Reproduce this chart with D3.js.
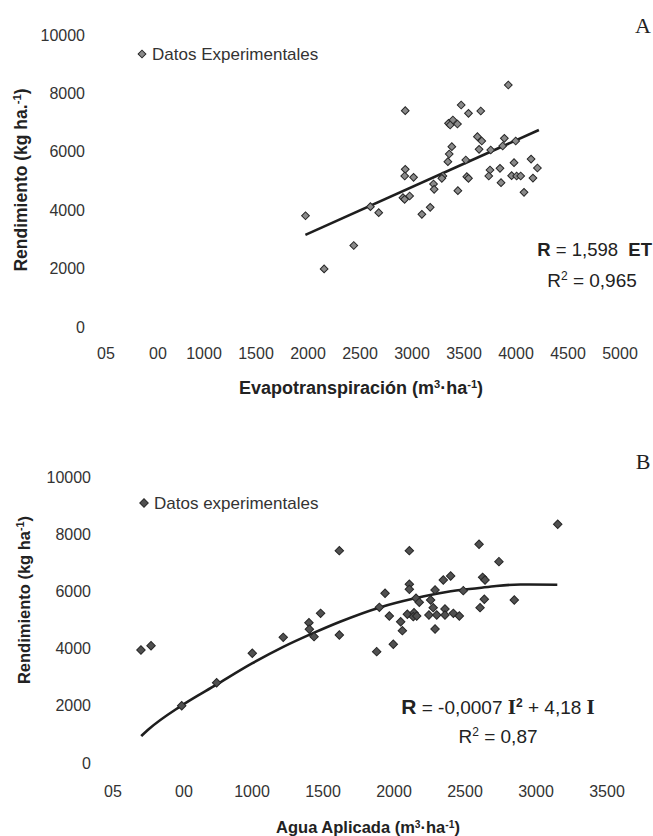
<!DOCTYPE html>
<html>
<head>
<meta charset="utf-8">
<script src="https://cdn.jsdelivr.net/npm/d3@7"></script>
<style>
  body { margin: 0; background: #fff; }
  svg { display: block; font-family: 'Liberation Sans', Arial, sans-serif; }
</style>
</head>
<body>
<div id="chart"></div>
<script>
// Panel A: evapotranspiration vs yield
const etA = [1976, 2440, 2155, 2600, 2680, 2935, 2935, 2930, 3015, 2913, 2929, 2977, 3095, 3175, 3207, 3213,
  3297, 3287, 3441, 3345, 3358, 3383, 3351, 3393, 3437, 3367, 3473, 3543, 3661, 3517, 3527, 3543, 3629, 3671,
  3645, 3757, 3750, 3738, 3846, 3856, 3872, 3888, 3997, 3981, 3958, 4006, 4045, 4077, 3926, 4145, 4206, 4163];
const rendA = [3810, 2790, 1990, 4120, 3915, 7410, 5400, 5170, 5125, 4430, 4372, 4486, 3858, 4098, 4897, 4714,
  5171, 5091, 4669, 5662, 5925, 6175, 6976, 7089, 6952, 6918, 7603, 7317, 7397, 5719, 5148, 5091, 6517, 6370,
  6085, 6062, 5377, 5171, 5434, 4942, 6199, 6462, 6370, 5627, 5182, 5171, 5171, 4612, 8288, 5750, 5445, 5100];
const fitA_x = [1975, 4220];
const fitA_y = [3155, 6745];

// Panel B: applied water vs yield
const aguaB = [218, 289, 505, 751, 1002, 1220, 1401, 1404, 1437, 1483, 1615, 1615, 1878, 1937, 1897, 1967, 1995,
  2047, 2059, 2108, 2108, 2108, 2094, 2141, 2136, 2160, 2155, 2178, 2258, 2276, 2246, 2289, 2289, 2301, 2347,
  2359, 2359, 2399, 2418, 2460, 2488, 2599, 2606, 2636, 2624, 2641, 2739, 2847, 3153];
const rendB = [3951, 4101, 2004, 2808, 3835, 4394, 4906, 4674, 4417, 5233, 7424, 4476, 3893, 5933, 5443, 5140, 4150,
  4941, 4627, 7424, 6248, 6072, 5199, 5256, 5117, 5140, 5758, 5618, 5699, 5431, 5175, 6049, 4685, 5175, 6399,
  5385, 5175, 6538, 5233, 5140, 6026, 7647, 5431, 5723, 6492, 6399, 7040, 5699, 8346];
const fitB_x = [220, 270, 500, 750, 1000, 1220, 1430, 1620, 1900, 2140, 2370, 2600, 2720, 2890, 3150];
const fitB_y = [940, 1170, 1995, 2740, 3480, 4060, 4540, 4940, 5440, 5750, 5980, 6120, 6190, 6240, 6230];

const yTicks = [0, 2000, 4000, 6000, 8000, 10000];
const xTicksA = [0, 500, 1000, 1500, 2000, 2500, 3000, 3500, 4000, 4500, 5000];
const xLabelsA = ['05', '00', '1000', '1500', '2000', '2500', '3000', '3500', '4000', '4500', '5000'];
const xTicksB = [0, 500, 1000, 1500, 2000, 2500, 3000, 3500];
const xLabelsB = ['05', '00', '1000', '1500', '2000', '2500', '3000', '3500'];

const svg = d3.select('#chart').append('svg')
  .attr('width', 653)
  .attr('height', 836);

const serif = "'Liberation Serif', 'Times New Roman', serif";

function drawPanel(cfg) {
  const x = d3.scaleLinear().domain(cfg.xDomain).range(cfg.xRange);
  const y = d3.scaleLinear().domain([0, 10000]).range(cfg.yRange);
  const g = svg.append('g');

  // y tick labels (no axis line in the original)
  g.selectAll('.ytick')
    .data(yTicks)
    .enter()
    .append('text')
    .attr('x', cfg.yLabelX)
    .attr('y', d => y(d) + 5.5)
    .attr('text-anchor', 'end')
    .style('font-size', '16px')
    .attr('fill', '#333')
    .text(d => d);

  // x tick labels
  g.selectAll('.xtick')
    .data(cfg.xTicks)
    .enter()
    .append('text')
    .attr('x', (d, i) => x(d) + (cfg.xLabels[i].length < 4 ? cfg.shortShift : 0))
    .attr('y', cfg.xLabelY)
    .attr('text-anchor', 'middle')
    .style('font-size', '16px')
    .attr('fill', '#333')
    .text((d, i) => cfg.xLabels[i]);

  // fitted line
  const line = d3.line()
    .x(d => x(d[0]))
    .y(d => y(d[1]))
    .curve(cfg.curve);
  g.append('path')
    .datum(cfg.fitX.map((v, i) => [v, cfg.fitY[i]]))
    .attr('fill', 'none')
    .attr('stroke', '#1e1e1e')
    .attr('stroke-width', 2.6)
    .attr('d', line);

  // points
  const diamond = d3.symbol().type(d3.symbolSquare).size(cfg.markSize);
  g.selectAll('.pt')
    .data(cfg.xs.map((v, i) => [v, cfg.ys[i]]))
    .enter()
    .append('path')
    .attr('d', diamond)
    .attr('transform', d => `translate(${x(d[0])},${y(d[1])}) rotate(45)`)
    .attr('fill', cfg.markFill)
    .attr('stroke', '#262626')
    .attr('stroke-width', 1);

  // legend
  g.append('path')
    .attr('d', diamond)
    .attr('transform', `translate(${cfg.legend[0]},${cfg.legend[1]}) rotate(45)`)
    .attr('fill', cfg.markFill)
    .attr('stroke', '#262626');
  g.append('text')
    .attr('x', cfg.legend[0] + 10)
    .attr('y', cfg.legend[1] + 6)
    .style('font-size', '17px')
    .attr('fill', '#333')
    .text(cfg.legendText);

  // panel letter
  g.append('text')
    .attr('x', 643)
    .attr('y', cfg.letterY)
    .attr('text-anchor', 'middle')
    .style('font-family', serif)
    .style('font-size', '22px')
    .attr('fill', '#222')
    .text(cfg.letter);

  // y title
  const yt = g.append('text')
    .attr('transform', `translate(${cfg.yTitle[0]},${cfg.yTitle[1]}) rotate(-90)`)
    .attr('text-anchor', 'middle')
    .style('font-size', cfg.yTitleSize + 'px')
    .style('font-weight', 'bold')
    .attr('fill', '#222');
  yt.append('tspan').text(cfg.yTitleText);
  yt.append('tspan').attr('baseline-shift', 'super').style('font-size', (cfg.yTitleSize * 0.65) + 'px').text('-1');
  yt.append('tspan').text(')');

  // x title
  const xt = g.append('text')
    .attr('x', cfg.xTitle[0])
    .attr('y', cfg.xTitle[1])
    .attr('text-anchor', 'middle')
    .style('font-size', cfg.xTitleSize + 'px')
    .style('font-weight', 'bold')
    .attr('fill', '#222');
  const supSize = (cfg.xTitleSize * 0.62) + 'px';
  xt.append('tspan').text(cfg.xTitleText + ' (m');
  xt.append('tspan').attr('baseline-shift', 'super').style('font-size', supSize).text('3');
  xt.append('tspan').text('·ha');
  xt.append('tspan').attr('baseline-shift', 'super').style('font-size', supSize).text('-1');
  xt.append('tspan').text(')');

  return g;
}

const gA = drawPanel({
  xDomain: [0, 5000], xRange: [100, 620], yRange: [327, 35],
  xTicks: xTicksA, xLabels: xLabelsA, shortShift: 6,
  yLabelX: 85, xLabelY: 359,
  xs: etA, ys: rendA, fitX: fitA_x, fitY: fitA_y, curve: d3.curveLinear,
  markSize: 30, markFill: '#8a8a8a',
  legend: [142, 54], legendText: 'Datos Experimentales',
  letter: 'A', letterY: 33,
  yTitle: [27, 180], yTitleText: 'Rendimiento (kg ha.', yTitleSize: 17.5,
  xTitle: [361, 394], xTitleText: 'Evapotranspiración', xTitleSize: 18
});

const gB = drawPanel({
  xDomain: [0, 3500], xRange: [110, 607], yRange: [763, 477],
  xTicks: xTicksB, xLabels: xLabelsB, shortShift: 3,
  yLabelX: 91, xLabelY: 797,
  xs: aguaB, ys: rendB, fitX: fitB_x, fitY: fitB_y, curve: d3.curveMonotoneX,
  markSize: 36, markFill: '#505050',
  legend: [144, 503], legendText: 'Datos experimentales',
  letter: 'B', letterY: 469,
  yTitle: [30, 600], yTitleText: 'Rendimiento (kg ha', yTitleSize: 16.5,
  xTitle: [368, 833], xTitleText: 'Agua Aplicada', xTitleSize: 16.5
});

// equation labels
const eqA = gA.append('text')
  .attr('x', 652).attr('y', 256)
  .attr('text-anchor', 'end')
  .attr('xml:space', 'preserve')
  .style('font-size', '18.5px')
  .attr('fill', '#222');
eqA.append('tspan').style('font-weight', 'bold').text('R');
eqA.append('tspan').text(' = 1,598  ');
eqA.append('tspan').style('font-weight', 'bold').text('ET');

const r2A = gA.append('text')
  .attr('x', 592).attr('y', 287)
  .attr('text-anchor', 'middle')
  .style('font-size', '19px')
  .attr('fill', '#222');
r2A.append('tspan').text('R');
r2A.append('tspan').attr('baseline-shift', 'super').style('font-size', '12px').text('2');
r2A.append('tspan').text(' = 0,965');

const eqB = gB.append('text')
  .attr('x', 498).attr('y', 714)
  .attr('text-anchor', 'middle')
  .style('font-size', '19px')
  .attr('fill', '#222');
eqB.append('tspan').style('font-weight', 'bold').style('font-size', '21px').text('R');
eqB.append('tspan').text(' = -0,0007 ');
eqB.append('tspan').style('font-weight', 'bold').style('font-family', serif).style('font-size', '21px').text('I');
eqB.append('tspan').attr('baseline-shift', 'super').style('font-weight', 'bold').style('font-size', '12px').text('2');
eqB.append('tspan').text(' + 4,18 ');
eqB.append('tspan').style('font-weight', 'bold').style('font-family', serif).style('font-size', '21px').text('I');

const r2B = gB.append('text')
  .attr('x', 498).attr('y', 743)
  .attr('text-anchor', 'middle')
  .style('font-size', '19px')
  .attr('fill', '#222');
r2B.append('tspan').text('R');
r2B.append('tspan').attr('baseline-shift', 'super').style('font-size', '12px').text('2');
r2B.append('tspan').text(' = 0,87');
</script>
</body>
</html>
